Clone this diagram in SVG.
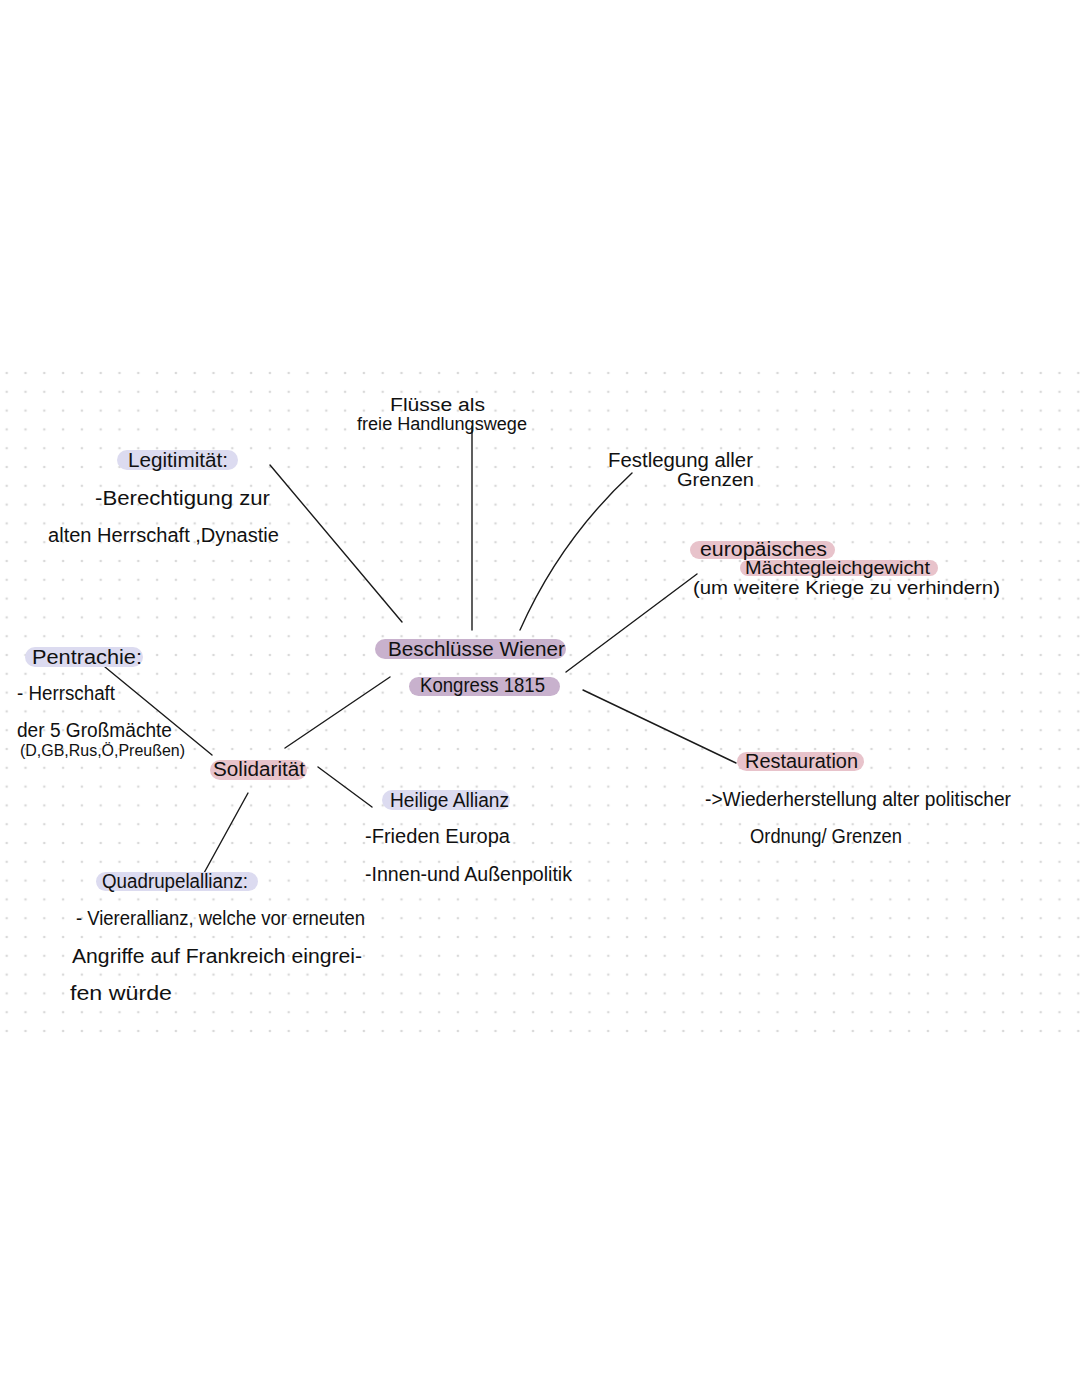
<svg xmlns="http://www.w3.org/2000/svg" width="1080" height="1397" viewBox="0 0 1080 1397">
<defs>
<pattern id="dots" x="6.7" y="373" width="18.8" height="18.8" patternUnits="userSpaceOnUse">
<circle cx="0" cy="0" r="1.3" fill="#d9d9d9"/>
<circle cx="18.8" cy="0" r="1.3" fill="#d9d9d9"/>
<circle cx="0" cy="18.8" r="1.3" fill="#d9d9d9"/>
<circle cx="18.8" cy="18.8" r="1.3" fill="#d9d9d9"/>
</pattern>
<style>
text{font-family:"Liberation Sans","DejaVu Sans",sans-serif;font-size:20px;fill:#111111;}
.s{font-size:18px;}
.xs{font-size:17px;}
.lav{fill:#dcdbf0;}
.pink{fill:#e8c3cb;}
.pur{fill:#c8b1cd;}
.ln{stroke:#1a1a1a;stroke-width:1.4;fill:none;stroke-linecap:round;}
</style>
</defs>
<rect width="1080" height="1397" fill="#ffffff"/>
<rect x="0" y="366" width="1080" height="672" fill="url(#dots)"/>

<g id="connectors">
<line class="ln" x1="472" y1="426" x2="472" y2="630"/>
<path class="ln" d="M632,473 Q560,540 520,630"/>
<line class="ln" x1="270" y1="465" x2="402" y2="622"/>
<line class="ln" x1="697" y1="574" x2="566" y2="672"/>
<line class="ln" x1="583" y1="690" x2="736" y2="763"/>
<line class="ln" x1="105" y1="667" x2="212" y2="755"/>
<line class="ln" x1="285" y1="748" x2="390" y2="677"/>
<line class="ln" x1="318" y1="767" x2="372" y2="807"/>
<line class="ln" x1="248" y1="793" x2="204" y2="873"/>
</g>

<g id="center">
<rect class="pur" x="375" y="639" width="191" height="20" rx="10"/>
<rect class="pur" x="409" y="677" width="151" height="19" rx="9.5"/>
<text x="388" y="656" textLength="177" lengthAdjust="spacingAndGlyphs" style="font-size:21px">Beschlüsse Wiener</text>
<text x="420" y="692" textLength="125" lengthAdjust="spacingAndGlyphs">Kongress 1815</text>
</g>

<g id="fluesse">
<text class="s" x="390" y="411" textLength="95" lengthAdjust="spacingAndGlyphs">Flüsse als</text>
<text class="s" x="357" y="430" textLength="170" lengthAdjust="spacingAndGlyphs">freie Handlungswege</text>
</g>

<g id="grenzen">
<text x="608" y="467" textLength="145" lengthAdjust="spacingAndGlyphs">Festlegung aller</text>
<text class="s" x="677" y="486" textLength="77" lengthAdjust="spacingAndGlyphs">Grenzen</text>
</g>

<g id="legitimitaet">
<rect class="lav" x="117" y="450" width="121" height="20" rx="10"/>
<text x="128" y="467" textLength="100" lengthAdjust="spacingAndGlyphs">Legitimität:</text>
<text x="95" y="505" textLength="175" lengthAdjust="spacingAndGlyphs">-Berechtigung zur</text>
<text x="48" y="542" textLength="231" lengthAdjust="spacingAndGlyphs">alten Herrschaft ,Dynastie</text>
</g>

<g id="gleichgewicht">
<rect class="pink" x="690" y="541" width="145" height="18" rx="9"/>
<rect class="pink" x="740" y="560" width="198" height="16" rx="8"/>
<text x="700" y="556" textLength="127" lengthAdjust="spacingAndGlyphs">europäisches</text>
<text class="s" x="745" y="574" textLength="185" lengthAdjust="spacingAndGlyphs">Mächtegleichgewicht</text>
<text style="font-size:19px" x="693" y="594" textLength="307" lengthAdjust="spacingAndGlyphs">(um weitere Kriege zu verhindern)</text>
</g>

<g id="pentrachie">
<rect class="lav" x="25" y="647" width="118" height="20" rx="10"/>
<text x="32" y="664" textLength="110" lengthAdjust="spacingAndGlyphs">Pentrachie:</text>
<text x="17" y="700" textLength="98" lengthAdjust="spacingAndGlyphs">- Herrschaft</text>
<text x="17" y="737" textLength="155" lengthAdjust="spacingAndGlyphs">der 5 Großmächte</text>
<text class="xs" x="20" y="756" textLength="165" lengthAdjust="spacingAndGlyphs">(D,GB,Rus,Ö,Preußen)</text>
</g>

<g id="solidaritaet">
<rect class="pink" x="210" y="760" width="97" height="20" rx="10"/>
<text x="213" y="776" textLength="92" lengthAdjust="spacingAndGlyphs">Solidarität</text>
</g>

<g id="heilige-allianz">
<rect class="lav" x="382" y="790" width="128" height="20" rx="10"/>
<text x="390" y="807" textLength="119" lengthAdjust="spacingAndGlyphs">Heilige Allianz</text>
<text x="365" y="843" textLength="145" lengthAdjust="spacingAndGlyphs">-Frieden Europa</text>
<text x="365" y="881" textLength="207" lengthAdjust="spacingAndGlyphs">-Innen-und Außenpolitik</text>
</g>

<g id="restauration">
<rect class="pink" x="737" y="752" width="127" height="19" rx="9.5"/>
<text x="745" y="768" textLength="113" lengthAdjust="spacingAndGlyphs">Restauration</text>
<text x="705" y="806" textLength="306" lengthAdjust="spacingAndGlyphs">-&gt;Wiederherstellung alter politischer</text>
<text x="750" y="843" textLength="152" lengthAdjust="spacingAndGlyphs">Ordnung/ Grenzen</text>
</g>

<g id="quadrupelallianz">
<rect class="lav" x="96" y="872" width="162" height="19" rx="9.5"/>
<text x="102" y="888" textLength="146" lengthAdjust="spacingAndGlyphs">Quadrupelallianz:</text>
<text x="76" y="925" textLength="289" lengthAdjust="spacingAndGlyphs">- Viererallianz, welche vor erneuten</text>
<text x="72" y="963" textLength="290" lengthAdjust="spacingAndGlyphs">Angriffe auf Frankreich eingrei-</text>
<text x="70" y="1000" textLength="102" lengthAdjust="spacingAndGlyphs">fen würde</text>
</g>
</svg>
